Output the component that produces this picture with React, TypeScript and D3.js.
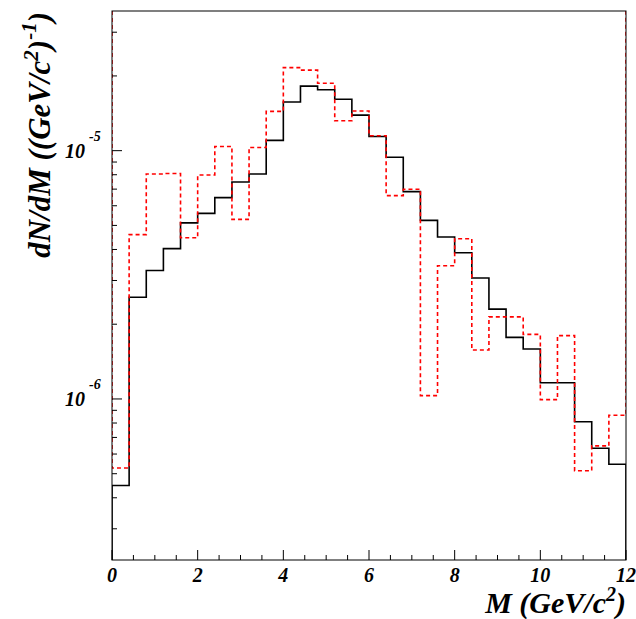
import React from "react";
import * as d3 from "d3";

const binEdges: number[] = d3.range(0, 12.0001, 0.4).map((v) => +v.toFixed(2));

const blackValues: number[] = [
  4.48e-7, 2.57e-6, 3.29e-6, 4.03e-6, 5.12e-6, 5.59e-6, 6.47e-6, 7.48e-6, 8.06e-6, 1.1e-5,
  1.57e-5, 1.82e-5, 1.76e-5, 1.61e-5, 1.39e-5, 1.14e-5, 9.41e-6, 6.84e-6, 5.24e-6, 4.49e-6,
  3.88e-6, 3.07e-6, 2.3e-6, 1.77e-6, 1.59e-6, 1.163e-6, 1.163e-6, 8.1e-7, 6.33e-7, 5.46e-7,
];

const redValues: number[] = [
  5.27e-7, 4.59e-6, 8.06e-6, 8.09e-6, 4.46e-6, 7.98e-6, 1.04e-5, 5.29e-6, 1.03e-5, 1.44e-5,
  2.16e-5, 2.11e-5, 1.87e-5, 1.32e-5, 1.445e-5, 1.149e-5, 6.59e-6, 6.99e-6, 1.031e-6, 3.44e-6,
  4.42e-6, 1.575e-6, 2.14e-6, 2.14e-6, 1.82e-6, 9.94e-7, 1.8e-6, 5.14e-7, 6.47e-7, 8.6e-7,
];

const xMajorTicks: number[] = [0, 2, 4, 6, 8, 10, 12];
const xMinorTicks: number[] = d3.range(0, 12.0001, 0.5);
const yMajorTicks: { value: number; exp: string }[] = [
  { value: 1e-5, exp: "-5" },
  { value: 1e-6, exp: "-6" },
];
const yMinorTicks: number[] = [
  3e-7, 4e-7, 5e-7, 6e-7, 7e-7, 8e-7, 9e-7,
  2e-6, 3e-6, 4e-6, 5e-6, 6e-6, 7e-6, 8e-6, 9e-6,
  2e-5, 3e-5,
];

const W = 636;
const H = 619;
const L = 112;
const R = 626;
const T = 11;
const B = 560;

const FONT = "'Liberation Serif', 'Times New Roman', serif";

function stepPath(
  x: d3.ScaleLinear<number, number>,
  y: d3.ScaleLogarithmic<number, number>,
  vals: number[],
  startY: number,
  endY: number
): string {
  const p = d3.path();
  p.moveTo(x(binEdges[0]), startY);
  vals.forEach((v, i) => {
    p.lineTo(x(binEdges[i]), y(v));
    p.lineTo(x(binEdges[i + 1]), y(v));
  });
  p.lineTo(x(binEdges[binEdges.length - 1]), endY);
  return p.toString();
}

export default function App() {
  const x = d3.scaleLinear().domain([0, 12]).range([L, R]);
  const y = d3.scaleLog().domain([2.246e-7, 3.652e-5]).range([B, T]);

  const blackD = stepPath(x, y, blackValues, B, B);
  const redD = stepPath(x, y, redValues, T, T);

  const labelStyle: React.CSSProperties = {
    fontFamily: FONT,
    fontWeight: "bold",
    fontStyle: "italic",
  };

  return (
    <svg
      width={W}
      height={H}
      style={{ position: "absolute", left: 0, top: 0, background: "#fff" }}
    >
      <rect x={0} y={0} width={W} height={H} fill="#fff" />
      <defs>
        <clipPath id="plotclip">
          <rect x={L} y={T} width={R - L} height={B - T} />
        </clipPath>
      </defs>
      <g clipPath="url(#plotclip)">
        <path d={blackD} fill="none" stroke="#000" strokeWidth={1.6} />
        <path
          d={redD}
          fill="none"
          stroke="#ff0000"
          strokeWidth={1.6}
          strokeDasharray="4,3"
        />
      </g>
      {/* frame */}
      <rect x={L} y={T} width={R - L} height={B - T} fill="none" stroke="#000" strokeWidth={1} />
      {/* x ticks */}
      {xMinorTicks.map((t) => {
        const major = xMajorTicks.includes(t);
        return (
          <line
            key={"xt" + t}
            x1={x(t)}
            x2={x(t)}
            y1={B}
            y2={B - (major ? 10 : 5)}
            stroke="#000"
            strokeWidth={1}
          />
        );
      })}
      {xMajorTicks.map((t) => (
        <text
          key={"xl" + t}
          x={x(t)}
          y={582}
          textAnchor="middle"
          fontSize={20}
          style={labelStyle}
        >
          {t}
        </text>
      ))}
      {/* y ticks */}
      {yMinorTicks.map((t) => (
        <line key={"ym" + t} x1={L} x2={L + 5} y1={y(t)} y2={y(t)} stroke="#000" strokeWidth={1} />
      ))}
      {yMajorTicks.map((t) => (
        <g key={"yM" + t.value}>
          <line x1={L} x2={L + 10} y1={y(t.value)} y2={y(t.value)} stroke="#000" strokeWidth={1} />
          <text x={85} y={y(t.value) + 7} textAnchor="end" fontSize={20} style={labelStyle}>
            10
          </text>
          <text x={89} y={y(t.value) - 10} textAnchor="start" fontSize={14} style={labelStyle}>
            {t.exp}
          </text>
        </g>
      ))}
      {/* x title */}
      <text x={R} y={613} textAnchor="end" fontSize={30} style={labelStyle}>
        M (GeV/c
        <tspan dy={-12} fontSize={20}>2</tspan>
        <tspan dy={12}>)</tspan>
      </text>
      {/* y title */}
      <text
        transform={`translate(50, 12) rotate(-90)`}
        textAnchor="end"
        fontSize={31}
        style={labelStyle}
      >
        dN/dM ((GeV/c
        <tspan dy={-12} fontSize={21}>2</tspan>
        <tspan dy={12}>)</tspan>
        <tspan dy={-14} fontSize={21}>-1</tspan>
        <tspan dy={14}>)</tspan>
      </text>
    </svg>
  );
}
